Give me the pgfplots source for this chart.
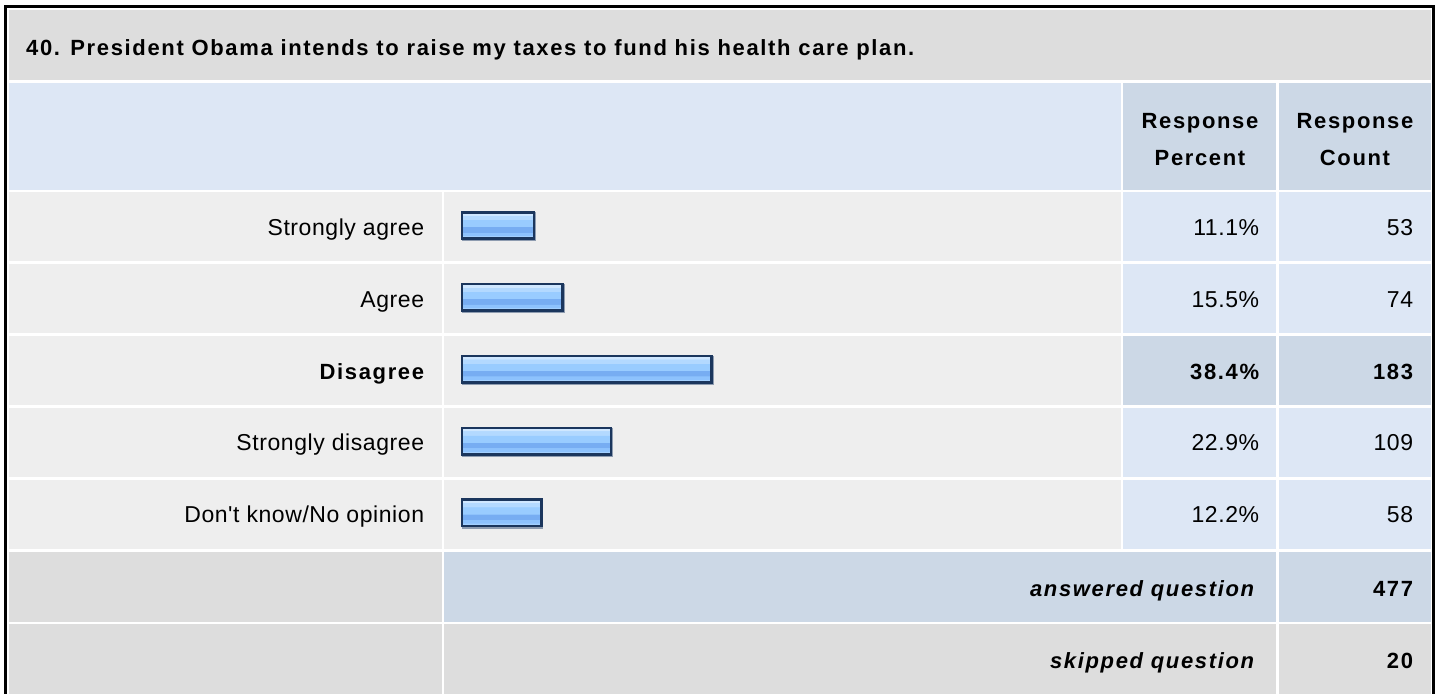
\documentclass[border=0pt]{standalone}
\usepackage{pgfplots}
\pgfplotsset{compat=1.18}
\usepackage{fontspec}
\setmainfont{Liberation Sans}
\newfontfamily\regf[LetterSpace=2.5]{Liberation Sans}
\newfontfamily\bldf[LetterSpace=7.5]{Liberation Sans}
\newcommand\rt{\regf\fontsize{23bp}{27bp}\selectfont}
\newcommand\bt{\bldf\bfseries\fontsize{22bp}{26bp}\selectfont}
\newcommand\bit{\bldf\bfseries\itshape\fontsize{22bp}{26bp}\selectfont}
\definecolor{cgray}{HTML}{DDDDDD}
\definecolor{crow}{HTML}{EEEEEE}
\definecolor{clight}{HTML}{DDE7F5}
\definecolor{cblue}{HTML}{CCD8E6}
\definecolor{navy}{HTML}{1B365D}
\definecolor{shadowc}{HTML}{8E9CB0}
\definecolor{bA}{HTML}{A3D0FF}
\definecolor{bB}{HTML}{8DC2FD}
\definecolor{bC}{HTML}{77ADF2}
\definecolor{bD}{HTML}{99CCFF}
\definecolor{bE}{HTML}{B3D9FF}
\definecolor{bF}{HTML}{CFE7FF}
\pgfdeclareverticalshading{barshade}{100bp}{color(0bp)=(bA); color(25bp)=(bA); color(30.5bp)=(bA); color(31bp)=(bB); color(37bp)=(bB); color(37.5bp)=(bC); color(47.5bp)=(bC); color(48bp)=(bD); color(61bp)=(bD); color(61.5bp)=(bE); color(69bp)=(bE); color(69.5bp)=(bF); color(100bp)=(bF)}
\pgfplotsset{
  shadowbar/.style={draw=shadowc, fill=shadowc, line width=2.6bp, xshift=0.8bp, yshift=-1.3bp, bar shift=0pt, forget plot},
  mainbar/.style={draw=navy, line width=2.6bp, shading=barshade, bar shift=0pt}
}
\begin{document}
\begin{tikzpicture}
\begin{scope}[x=1bp,y=-1bp]
\fill[white] (0,0) rectangle (1440,694);
% title
\fill[cgray] (9,10) rectangle (1431,80.3);
% header
\fill[clight] (9,83.3) rectangle (1120.7,190);
\fill[cblue] (1123.3,83.3) rectangle (1275.7,190);
\fill[cblue] (1279,83.3) rectangle (1431,190);
% rows
\foreach \k in {0,...,4}{
  \pgfmathsetmacro\ya{192.3+71.85*\k}
  \pgfmathsetmacro\yb{\ya+69}
  \fill[crow] (9,\ya) rectangle (441.7,\yb);
  \fill[crow] (444.3,\ya) rectangle (1120.7,\yb);
  \ifnum\k=2
    \fill[cblue] (1123.3,\ya) rectangle (1275.7,\yb);
    \fill[cblue] (1279,\ya) rectangle (1431,\yb);
  \else
    \fill[clight] (1123.3,\ya) rectangle (1275.7,\yb);
    \fill[clight] (1279,\ya) rectangle (1431,\yb);
  \fi
}
% answered
\fill[cgray] (9,552) rectangle (441.7,621.7);
\fill[cblue] (444.3,552) rectangle (1275.7,621.7);
\fill[cblue] (1279,552) rectangle (1431,621.7);
% skipped
\fill[cgray] (9,623.7) rectangle (441.7,700);
\fill[cgray] (444.3,623.7) rectangle (1275.7,700);
\fill[cgray] (1279,623.7) rectangle (1431,700);
% frame
\draw[black, line width=2.8bp] (5.4,6.2) rectangle (1433.7,702);
% texts
\node[anchor=base west, inner sep=0] at (26,55) {\bt 40. President Obama intends to raise my taxes to fund his health care plan.};
\node[anchor=base, inner sep=0] at (1200,128.3) {\bt Response};
\node[anchor=base, inner sep=0] at (1200,165) {\bt Percent};
\node[anchor=base, inner sep=0] at (1355,128.3) {\bt Response};
\node[anchor=base, inner sep=0] at (1355,165) {\bt Count};
\node[anchor=base east, inner sep=0] at (424.3,235.3) {\rt Strongly agree};
\node[anchor=base east, inner sep=0] at (424.3,307.1) {\rt Agree};
\node[anchor=base east, inner sep=0] at (424.3,379.0) {\bt Disagree};
\node[anchor=base east, inner sep=0] at (424.3,450.8) {\rt Strongly disagree};
\node[anchor=base east, inner sep=0] at (424.3,522.7) {\rt Don't know/No opinion};
\node[anchor=base east, inner sep=0] at (1259.3,235.3) {\rt 11.1\%};
\node[anchor=base east, inner sep=0] at (1259.3,307.1) {\rt 15.5\%};
\node[anchor=base east, inner sep=0] at (1259.3,379.0) {\bt 38.4\%};
\node[anchor=base east, inner sep=0] at (1259.3,450.8) {\rt 22.9\%};
\node[anchor=base east, inner sep=0] at (1259.3,522.7) {\rt 12.2\%};
\node[anchor=base east, inner sep=0] at (1413.3,235.3) {\rt 53};
\node[anchor=base east, inner sep=0] at (1413.3,307.1) {\rt 74};
\node[anchor=base east, inner sep=0] at (1413.3,379.0) {\bt 183};
\node[anchor=base east, inner sep=0] at (1413.3,450.8) {\rt 109};
\node[anchor=base east, inner sep=0] at (1413.3,522.7) {\rt 58};
\node[anchor=base east, inner sep=0] at (1254.3,596.5) {\bit answered question};
\node[anchor=base east, inner sep=0] at (1413.3,596.5) {\bt 477};
\node[anchor=base east, inner sep=0] at (1254.3,668.3) {\bit skipped question};
\node[anchor=base east, inner sep=0] at (1413.3,668.3) {\bt 20};
\end{scope}
\begin{axis}[at={(462bp,-189.57bp)}, anchor=north west, scale only axis,
  width=650bp, height=359.25bp, xmin=0, xmax=100, ymin=0.5, ymax=5.5,
  y dir=reverse, hide axis, clip=false, xbar, bar width=26.5bp, bar shift=0pt]
\addplot[shadowbar] coordinates {(11.1,1) (15.5,2) (38.4,3) (22.9,4) (12.2,5)};
\addplot[mainbar] coordinates {(11.1,1)};
\addplot[mainbar] coordinates {(15.5,2)};
\addplot[mainbar] coordinates {(38.4,3)};
\addplot[mainbar] coordinates {(22.9,4)};
\addplot[mainbar] coordinates {(12.2,5)};
\end{axis}
\pgfresetboundingbox
\path[use as bounding box] (0,0) rectangle (1440bp,-694bp);
\end{tikzpicture}
\end{document}
